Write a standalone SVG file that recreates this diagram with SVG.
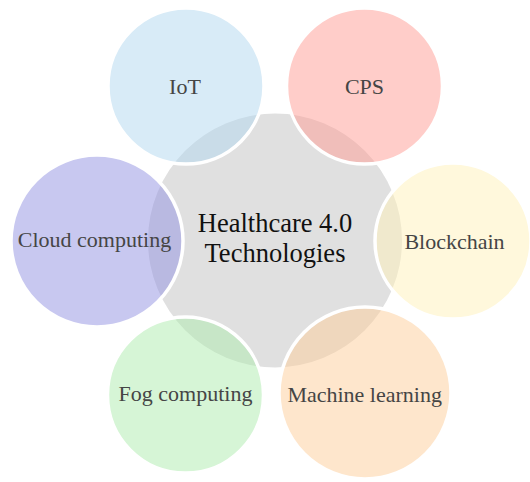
<svg xmlns="http://www.w3.org/2000/svg" width="530" height="482" viewBox="0 0 530 482">
  <style>
    .outer { fill-opacity: 0.5; stroke: #ffffff; stroke-width: 3.5; }
    .lbl { font-family: "Liberation Serif", "Times New Roman", serif; font-size: 22px; fill: #454545; text-anchor: middle; }
    .center-lbl { font-family: "Liberation Serif", "Times New Roman", serif; font-size: 26.5px; fill: #111111; text-anchor: middle; }
  </style>
  <rect width="530" height="482" fill="#ffffff"/>
  <g id="center">
    <circle cx="275" cy="240.5" r="127" fill="#e0e0e0"/>
    <text class="center-lbl" x="275" y="231.5">Healthcare 4.0</text>
    <text class="center-lbl" x="275" y="262">Technologies</text>
  </g>
  <g id="iot">
    <circle class="outer" cx="186" cy="86" r="78" fill="#b1d7ef"/>
    <text class="lbl" x="185" y="93.5">IoT</text>
  </g>
  <g id="cps">
    <circle class="outer" cx="364.5" cy="86" r="78" fill="#ff9b93"/>
    <text class="lbl" x="364.5" y="93.5">CPS</text>
  </g>
  <g id="blockchain">
    <circle class="outer" cx="453" cy="241" r="78" fill="#fff1b9"/>
    <text class="lbl" x="454.5" y="248.5">Blockchain</text>
  </g>
  <g id="machine-learning">
    <circle class="outer" cx="365" cy="393" r="86" fill="#fdcd99"/>
    <text class="lbl" x="364.7" y="401.5">Machine learning</text>
  </g>
  <g id="fog-computing">
    <circle class="outer" cx="185.5" cy="395" r="78" fill="#adebad"/>
    <text class="lbl" x="185.5" y="400.7">Fog computing</text>
  </g>
  <g id="cloud-computing">
    <circle class="outer" cx="97" cy="241" r="86" fill="#9191e1"/>
    <text class="lbl" x="94.5" y="246.5">Cloud computing</text>
  </g>
</svg>
